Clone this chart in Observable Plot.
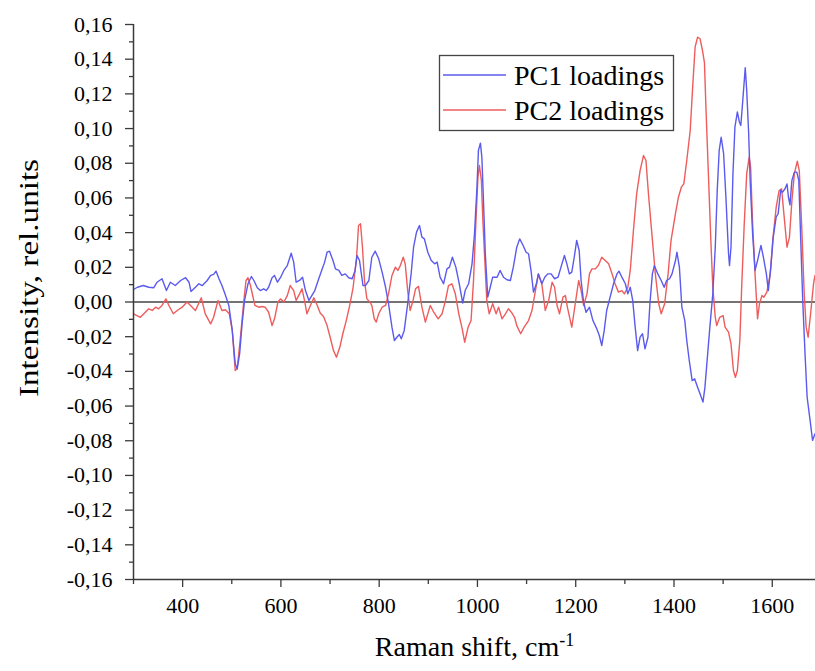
<!DOCTYPE html>
<html>
<head>
<meta charset="utf-8">
<script src="https://cdn.jsdelivr.net/npm/d3@7"></script>
<script src="https://cdn.jsdelivr.net/npm/@observablehq/plot@0.6"></script>
<style>
  html, body { margin: 0; padding: 0; background: #fff; }
  #chart { position: relative; width: 815px; height: 671px; }
  #chart svg text { font-family: "Liberation Serif", "Times New Roman", serif !important; }
</style>
</head>
<body>
<div id="chart"></div>
<script>
// ---- Data ----
const seriesNames = ["PC1 loadings", "PC2 loadings"];

const pc1X = [300,308,320,331,341,348,358,367,375,385,396,406,413,417,426,433,440,450,457,463,468,474,480,487,494,501,507,511,516,521,526,533,540,545,552,558,565,570,575,582,587,593,599,606,613,621,626,631,638,644,650,657,662,669,677,684,689,694,699,706,711,718,724,731,738,745,751,755,760,767,772,779,785,792,799,806,813,819,826,831,836,841,845,851,858,865,870,876,882,887,892,899,906,913,918,924,931,938,943,949,956,963,970,975,982,989,994,999,1002,1006,1009,1012,1016,1021,1026,1031,1040,1046,1053,1060,1067,1073,1080,1086,1093,1099,1104,1109,1114,1120,1124,1131,1137,1143,1150,1157,1164,1170,1177,1182,1187,1192,1197,1202,1207,1211,1216,1221,1228,1235,1243,1248,1253,1258,1263,1270,1277,1284,1288,1294,1301,1306,1311,1316,1321,1326,1331,1336,1341,1347,1351,1356,1360,1367,1374,1380,1385,1391,1396,1403,1406,1411,1416,1422,1426,1431,1437,1442,1448,1453,1459,1463,1468,1473,1479,1484,1488,1492,1496,1501,1506,1511,1513,1516,1520,1524,1529,1533,1536,1540,1545,1548,1552,1555,1560,1565,1570,1577,1582,1588,1592,1597,1602,1608,1612,1617,1621,1626,1630,1633,1636,1640,1645,1650,1654,1658,1662,1667,1671,1677,1682,1687];
const pc1Y = [0.0072,0.0085,0.0095,0.0085,0.0082,0.0114,0.0134,0.0066,0.0114,0.0095,0.0124,0.0140,0.0114,0.0061,0.0085,0.0105,0.0095,0.0124,0.0153,0.0159,0.0178,0.0134,0.0095,0.0040,-0.0020,-0.0164,-0.0356,-0.0385,-0.0299,-0.0126,0.0009,0.0105,0.0147,0.0124,0.0082,0.0066,0.0076,0.0066,0.0085,0.0140,0.0153,0.0114,0.0140,0.0182,0.0210,0.0281,0.0230,0.0114,0.0124,0.0143,0.0066,0.0009,0.0032,0.0066,0.0134,0.0190,0.0230,0.0287,0.0293,0.0239,0.0191,0.0182,0.0153,0.0162,0.0140,0.0134,0.0182,0.0268,0.0239,0.0095,0.0095,0.0124,0.0258,0.0293,0.0249,0.0172,0.0085,-0.0010,-0.0145,-0.0222,-0.0203,-0.0187,-0.0212,-0.0164,-0.0010,0.0162,0.0316,0.0403,0.0441,0.0374,0.0364,0.0287,0.0239,0.0220,0.0230,0.0143,0.0105,0.0191,0.0201,0.0258,0.0201,0.0105,-0.0006,0.0066,0.0105,0.0220,0.0393,0.0662,0.0874,0.0916,0.0835,0.0604,0.0278,0.0028,0.0085,0.0143,0.0143,0.0182,0.0143,0.0128,0.0124,0.0201,0.0316,0.0364,0.0326,0.0287,0.0278,0.0182,0.0057,0.0105,0.0162,0.0105,0.0143,0.0162,0.0162,0.0134,0.0143,0.0201,0.0268,0.0220,0.0162,0.0172,0.0258,0.0355,0.0297,0.0124,0.0000,-0.0059,-0.0030,-0.0107,-0.0155,-0.0193,-0.0251,-0.0164,-0.0049,0.0028,0.0105,0.0162,0.0178,0.0143,0.0105,0.0047,0.0085,0.0009,-0.0145,-0.0280,-0.0203,-0.0183,-0.0270,-0.0203,-0.0010,0.0162,0.0210,0.0162,0.0124,0.0085,0.0124,0.0134,0.0162,0.0239,0.0287,0.0201,-0.0030,-0.0107,-0.0222,-0.0336,-0.0453,-0.0443,-0.0491,-0.0529,-0.0577,-0.0491,-0.0318,-0.0145,0.0047,0.0316,0.0643,0.0874,0.0950,0.0855,0.0585,0.0278,0.0210,0.0316,0.0740,0.1008,0.1096,0.1038,0.1018,0.1162,0.1351,0.1220,0.0970,0.0701,0.0393,0.0182,0.0239,0.0326,0.0258,0.0162,0.0066,0.0201,0.0374,0.0490,0.0509,0.0643,0.0633,0.0653,0.0681,0.0604,0.0560,0.0701,0.0749,0.0749,0.0701,0.0355,0.0009,-0.0318,-0.0549,-0.0683,-0.0798,-0.0760];

const pc2X = [300,314,321,331,338,345,351,358,366,372,381,389,399,409,416,426,438,446,457,463,472,480,487,495,501,507,511,517,524,529,533,538,547,555,562,568,575,582,587,594,599,606,613,619,626,631,638,643,648,653,660,667,674,680,687,694,701,707,713,720,726,733,740,747,754,758,762,766,770,775,781,785,790,794,799,806,813,819,826,833,838,843,849,853,858,863,869,874,880,887,894,904,911,920,928,935,941,948,955,962,969,974,981,987,992,997,1001,1004,1008,1011,1016,1019,1024,1031,1038,1043,1050,1057,1063,1070,1076,1080,1088,1095,1104,1111,1118,1124,1131,1138,1145,1152,1157,1162,1167,1174,1179,1183,1189,1192,1197,1206,1211,1216,1223,1228,1233,1240,1246,1253,1260,1267,1274,1280,1287,1294,1299,1306,1311,1318,1324,1331,1338,1343,1348,1355,1362,1369,1374,1381,1388,1394,1403,1409,1415,1420,1426,1433,1438,1443,1448,1453,1458,1462,1465,1470,1475,1479,1484,1487,1493,1500,1504,1511,1516,1521,1525,1529,1534,1538,1543,1548,1553,1556,1560,1565,1570,1574,1579,1583,1589,1596,1601,1608,1614,1619,1623,1630,1635,1640,1645,1651,1655,1660,1665,1669,1673,1678,1684,1687];
const pc2Y = [-0.0068,-0.0088,-0.0068,-0.0039,-0.0049,-0.0030,-0.0039,-0.0020,0.0018,-0.0020,-0.0068,-0.0049,-0.0030,0.0000,-0.0020,-0.0049,0.0024,-0.0068,-0.0126,-0.0088,0.0009,-0.0049,-0.0045,-0.0068,-0.0164,-0.0395,-0.0385,-0.0222,-0.0010,0.0124,0.0140,0.0095,-0.0020,-0.0030,-0.0026,-0.0030,-0.0059,-0.0136,-0.0097,0.0000,0.0018,0.0000,0.0037,0.0095,0.0066,0.0009,0.0047,0.0076,0.0009,-0.0068,-0.0020,0.0024,-0.0020,-0.0063,-0.0085,-0.0136,-0.0212,-0.0280,-0.0318,-0.0260,-0.0183,-0.0107,-0.0020,0.0085,0.0258,0.0441,0.0451,0.0316,0.0124,0.0018,0.0000,-0.0020,-0.0097,-0.0116,-0.0068,-0.0030,-0.0020,0.0047,0.0153,0.0201,0.0182,0.0210,0.0258,0.0220,0.0066,-0.0049,0.0009,0.0076,0.0090,-0.0030,-0.0116,-0.0020,-0.0059,-0.0097,-0.0068,0.0009,0.0095,0.0105,0.0047,-0.0068,-0.0155,-0.0232,-0.0145,-0.0107,0.0124,0.0470,0.0720,0.0787,0.0701,0.0470,0.0182,0.0009,-0.0068,-0.0010,-0.0068,-0.0030,-0.0097,-0.0068,-0.0039,-0.0063,-0.0092,-0.0136,-0.0183,-0.0145,-0.0107,-0.0049,0.0066,0.0162,0.0105,-0.0049,0.0009,0.0114,0.0085,-0.0020,-0.0068,0.0028,0.0037,-0.0030,-0.0107,-0.0145,-0.0049,0.0124,0.0066,-0.0020,0.0047,0.0162,0.0191,0.0191,0.0210,0.0258,0.0239,0.0220,0.0162,0.0105,0.0057,0.0066,0.0047,0.0085,0.0182,0.0431,0.0624,0.0758,0.0845,0.0816,0.0624,0.0393,0.0162,-0.0010,-0.0068,-0.0010,0.0162,0.0355,0.0509,0.0604,0.0662,0.0681,0.0816,0.0989,0.1239,0.1470,0.1527,0.1518,0.1450,0.1380,0.1123,0.0740,0.0355,0.0085,-0.0088,-0.0136,-0.0088,-0.0078,-0.0145,-0.0174,-0.0241,-0.0395,-0.0434,-0.0395,-0.0222,0.0105,0.0451,0.0740,0.0835,0.0777,0.0451,0.0162,-0.0097,-0.0010,0.0037,0.0028,0.0057,0.0162,0.0355,0.0547,0.0643,0.0653,0.0528,0.0316,0.0374,0.0585,0.0740,0.0812,0.0758,0.0431,0.0047,-0.0145,-0.0203,-0.0068,0.0105,0.0153];

const xMajorTicks = [400, 600, 800, 1000, 1200, 1400, 1600];
const xMinorTicks = [300, 500, 700, 900, 1100, 1300, 1500];
const yMajorTicks = [-0.16,-0.14,-0.12,-0.10,-0.08,-0.06,-0.04,-0.02,0,0.02,0.04,0.06,0.08,0.10,0.12,0.14,0.16];
const yMinorTicks = [-0.15,-0.13,-0.11,-0.09,-0.07,-0.05,-0.03,-0.01,0.01,0.03,0.05,0.07,0.09,0.11,0.13,0.15];

const xTitle = "Raman shift, cm-1";
const yTitle = "Intensity, rel.units";
const colors = ["#5a5aee", "#ee5c5c"];

// ---- Build tables ----
const pc1 = pc1X.map((x, i) => ({x, y: pc1Y[i]}));
const pc2 = pc2X.map((x, i) => ({x, y: pc2Y[i]}));

const loc = d3.formatLocale({decimal: ",", thousands: ".", grouping: [3], currency: ["", ""], minus: "-"});
const fmtY = loc.format(".2f");

const axisColor = "#3a3a3a";

const chart = Plot.plot({
  width: 815,
  height: 671,
  marginLeft: 133,
  marginRight: 0,
  marginTop: 24,
  marginBottom: 92,
  style: {fontFamily: "Liberation Serif", fontSize: "22px", color: "#000", background: "#fff", overflow: "visible"},
  x: {domain: [300, 1688]},
  y: {domain: [-0.16, 0.16]},
  marks: [
    Plot.ruleY([0], {stroke: "#444", strokeWidth: 1.3}),
    Plot.line(pc2, {x: "x", y: "y", stroke: colors[1], strokeWidth: 1.4}),
    Plot.line(pc1, {x: "x", y: "y", stroke: colors[0], strokeWidth: 1.4}),
    Plot.ruleX([300], {stroke: axisColor, strokeWidth: 1.5}),
    Plot.ruleY([-0.16], {stroke: axisColor, strokeWidth: 1.5}),
    Plot.axisY({ticks: yMajorTicks, tickSize: 8, tickPadding: 13, tickFormat: fmtY, label: null, stroke: axisColor, fill: "#000", strokeWidth: 1.3, fontSize: 22}),
    Plot.axisY({ticks: yMinorTicks, tickSize: 4, tickFormat: () => "", label: null, stroke: axisColor, strokeWidth: 1.3}),
    Plot.axisX({ticks: xMajorTicks, tickSize: 8, tickPadding: 10, tickFormat: d => String(d), label: null, stroke: axisColor, fill: "#000", strokeWidth: 1.3, fontSize: 22}),
    Plot.axisX({ticks: xMinorTicks, tickSize: 5, tickFormat: () => "", label: null, stroke: axisColor, strokeWidth: 1.3}),
    Plot.text([xTitle], {frameAnchor: "bottom", dy: 76, fontSize: 28, fill: "#000", textAnchor: "middle"}),
    Plot.text([yTitle], {frameAnchor: "left", dx: -104, dy: -24, rotate: -90, fontSize: 28, fill: "#000", textAnchor: "middle"})
  ]
});

document.getElementById("chart").appendChild(chart);

const svg = d3.select(chart.tagName.toLowerCase() === "svg" ? chart : chart.querySelector("svg"));

// Superscript for the x title
svg.selectAll("text").filter(function() { return this.textContent === xTitle; }).each(function() {
  const t = d3.select(this);
  t.text("");
  t.append("tspan").text("Raman shift, cm");
  t.append("tspan").attr("dy", "-0.55em").attr("font-size", "18px").text("-1");
});
// The reference's y title is stretched along its length
svg.selectAll("text").filter(function() { return this.textContent === yTitle; })
  .attr("textLength", 238).attr("lengthAdjust", "spacingAndGlyphs");

// Legend (inside the plot frame, top right)
const leg = svg.append("g").attr("font-family", "Liberation Serif, serif").attr("font-size", 28).attr("text-anchor", "start");
leg.append("rect").attr("x", 439.5).attr("y", 55.5).attr("width", 234).attr("height", 75)
  .attr("fill", "#fff").attr("stroke", "#444").attr("stroke-width", 1.3);
seriesNames.forEach((name, i) => {
  const yy = 75 + i * 35;
  leg.append("line").attr("x1", 443).attr("x2", 506).attr("y1", yy).attr("y2", yy)
    .attr("stroke", colors[i]).attr("stroke-width", 1.4);
  leg.append("text").attr("x", 514).attr("y", yy).attr("dy", "0.35em").attr("text-anchor", "start").attr("fill", "#000").text(name);
});
</script>
</body>
</html>
